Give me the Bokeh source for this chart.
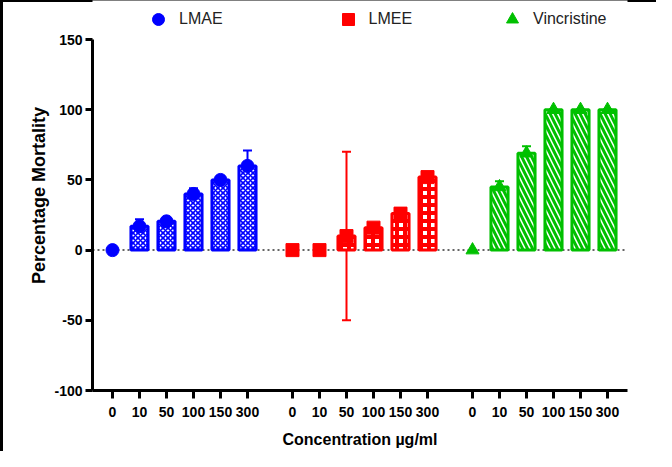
from bokeh.plotting import figure
from bokeh.models import (Legend, LegendItem, Span, Whisker, ColumnDataSource,
                          FixedTicker, TeeHead, Range1d)
from bokeh.embed import file_html
from bokeh.resources import INLINE

# ---- data ----
concentrations = ["0", "10", "50", "100", "150", "300"]
treatments = ["LMAE", "LMEE", "Vincristine"]
lmae_mean = [0, 17, 20.5, 40, 50, 60]
lmae_sd = [0, 5, 2, 4, 2, 11]
lmee_mean = [0, 0, 10, 16, 26, 52]
lmee_sd = [0, 0, 60, 3, 3, 3]
vinc_mean = [0, 45, 69, 100, 100, 100]
vinc_sd = [0, 4, 5, 0, 0, 0]
y_ticks = [-100, -50, 0, 50, 100, 150]

means = [lmae_mean, lmee_mean, vinc_mean]
sds = [lmae_sd, lmee_sd, vinc_sd]

# ---- styling ----
colors = ["#0000FF", "#FF0000", "#00C000"]
markers = ["circle", "square", "triangle"]
hatches = [("x", 5, 1.6), ("+", 8, 4), ("\\", 10, 3)]
SLOT = 3
GROUP = 20

p = figure(width=656, height=451, output_backend="svg", toolbar_location=None,
           x_range=Range1d(-2.222, 57.222), y_range=Range1d(-100, 177.8),
           min_border_left=92, min_border_right=29, min_border_top=0,
           min_border_bottom=61)
p.border_fill_alpha = 0
p.background_fill_color = "white"
p.outline_line_color = None
p.xgrid.visible = False
p.ygrid.visible = False
p.styles = {"box-shadow": "inset 3px 2px 0 0 black"}

zero = Span(location=0, dimension="width", line_dash="2 3", line_width=1.5,
            line_color="#333333", level="underlay")
p.add_layout(zero)

tick_pos = []
tick_labels = {}
scatter_renderers = []
for g, name in enumerate(treatments):
    xs = [SLOT * i + GROUP * g for i in range(len(concentrations))]
    for x, lab in zip(xs, concentrations):
        tick_pos.append(x)
        tick_labels[x] = lab
    m = means[g]
    s = sds[g]
    c = colors[g]
    src = ColumnDataSource(dict(x=xs, mean=m,
                                upper=[a + b for a, b in zip(m, s)],
                                lower=[a - b for a, b in zip(m, s)]))
    w = Whisker(source=src, base="x", upper="upper", lower="lower",
                level="underlay", line_color=c, line_width=2,
                upper_head=TeeHead(size=9, line_color=c, line_width=2),
                lower_head=TeeHead(size=9, line_color=c, line_width=2))
    p.add_layout(w)
    bx = [x for x, v in zip(xs, m) if v != 0]
    bt = [v for v in m if v != 0]
    hp, hs, hw = hatches[g]
    p.vbar(x=bx, top=bt, bottom=0, width=1.9, fill_color="white",
           line_color=c, line_width=3, hatch_pattern=hp, hatch_color=c,
           hatch_scale=hs, hatch_weight=hw)
    r = p.scatter(x="x", y="mean", source=src, marker=markers[g], size=13,
                  fill_color=c, line_color=c)
    scatter_renderers.append(r)

# legends placed individually above the bars
leg_x = [51, 240.5, 405]
for r, name, lx in zip(scatter_renderers, treatments, leg_x):
    leg = Legend(items=[LegendItem(label=name, renderers=[r])],
                 location=(lx, 356.5), glyph_width=30, glyph_height=30,
                 padding=0, margin=0, label_standoff=6,
                 border_line_alpha=0, background_fill_alpha=0,
                 label_text_font="Liberation Sans", label_text_font_size="16px",
                 label_text_color="#222222")
    p.add_layout(leg)

# axes
xa = p.xaxis[0]
xa.ticker = FixedTicker(ticks=tick_pos)
xa.major_label_overrides = tick_labels
xa.axis_label = "Concentration \u00b5g/ml"
ya = p.yaxis[0]
ya.ticker = FixedTicker(ticks=y_ticks)
ya.major_label_overrides = {t: str(t) for t in y_ticks}
ya.bounds = (-100, 150)
ya.axis_label = "Percentage Mortality"

for ax in (xa, ya):
    ax.axis_line_width = 3
    ax.axis_line_color = "black"
    ax.major_tick_line_width = 3
    ax.major_tick_line_color = "black"
    ax.major_tick_in = 0
    ax.minor_tick_line_color = None
    ax.major_label_text_font = "Liberation Sans"
    ax.major_label_text_font_style = "bold"
    ax.major_label_text_font_size = "14px"
    ax.major_label_text_color = "black"
    ax.axis_label_text_font = "Liberation Sans"
    ax.axis_label_text_font_style = "bold"
    ax.axis_label_text_color = "black"

xa.major_tick_out = 8
xa.major_label_standoff = 8
xa.axis_label_text_font_size = "16px"
xa.axis_label_standoff = 11
ya.major_tick_out = 7
ya.major_label_standoff = 3
ya.axis_label_text_font_size = "18px"
ya.axis_label_standoff = 2

open("out.html", "w").write(file_html(p, INLINE))
